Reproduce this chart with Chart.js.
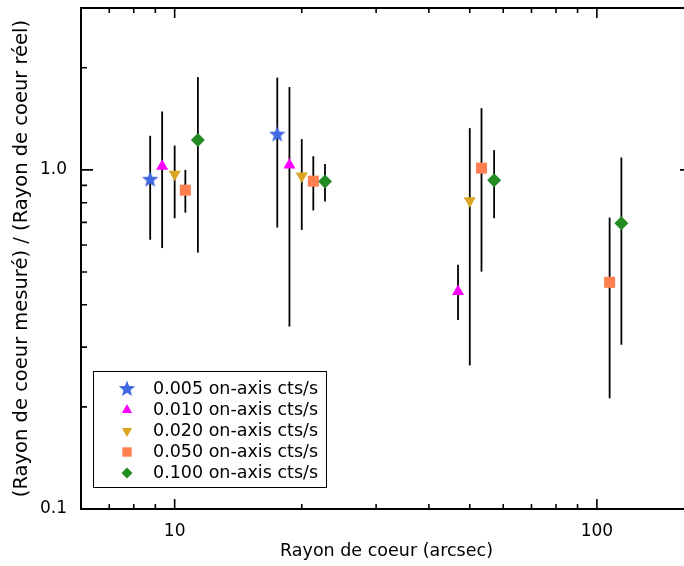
<!DOCTYPE html>
<html>
<head>
<meta charset="utf-8">
<script src="https://cdn.jsdelivr.net/npm/chart.js@4.4.1/dist/chart.umd.min.js"></script>
<style>
  html, body { margin: 0; padding: 0; background: #fff; overflow: hidden; }
  #wrap { width: 700px; height: 566px; }
</style>
</head>
<body>
<div id="wrap"><canvas id="chart" width="700" height="566"></canvas></div>
<script>
// legend labels and colours
const seriesNames = ["0.005 on-axis cts/s", "0.010 on-axis cts/s", "0.020 on-axis cts/s", "0.050 on-axis cts/s", "0.100 on-axis cts/s"];
const seriesColors = ["#4169E1", "#FF00FF", "#DAA520", "#FF7F50", "#228B22"];

// rayon de coeur (arcsec), ratio mesure/reel, bornes des barres d'erreur
const x005 = [8.75, 17.5];
const y005 = [0.935, 1.27];
const lo005 = [0.622, 0.676];
const hi005 = [1.26, 1.87];

const x010 = [9.34, 18.7, 46.9];
const y010 = [1.025, 1.034, 0.438];
const lo010 = [0.588, 0.345, 0.361];
const hi010 = [1.486, 1.754, 0.525];

const x020 = [10.0, 20.0, 50.0];
const y020 = [0.97, 0.959, 0.811];
const lo020 = [0.72, 0.665, 0.265];
const hi020 = [1.179, 1.232, 1.327];

const x050 = [10.6, 21.3, 53.3, 107.2];
const y050 = [0.871, 0.926, 1.012, 0.466];
const lo050 = [0.748, 0.759, 0.501, 0.212];
const hi050 = [1.0, 1.097, 1.52, 0.723];

const x100 = [11.35, 22.7, 57.1, 114.3];
const y100 = [1.224, 0.924, 0.932, 0.696];
const lo100 = [0.57, 0.806, 0.72, 0.305];
const hi100 = [1.877, 1.04, 1.143, 1.087];

// axis ticks
const xMajor = [10, 100];
const xMajorLabels = ["10", "100"];
const xMinor = [7, 8, 9, 20, 30, 40, 50, 60, 70, 80, 90];
const yMajor = [0.1, 1];
const yMajorLabels = ["0.1", "1.0"];
const yMinor = [0.2, 0.3, 0.4, 0.5, 0.6, 0.7, 0.8, 0.9, 2, 3];

const FONT = "'DejaVu Sans', sans-serif";

// filled 5 point star used as pointStyle
function makeStar(color, outer, inner) {
  const size = Math.ceil(outer * 2) + 2;
  const c = document.createElement("canvas");
  c.width = size; c.height = size;
  const g = c.getContext("2d");
  g.fillStyle = color;
  g.beginPath();
  for (let k = 0; k < 10; k++) {
    const r = k % 2 ? inner : outer;
    const a = -Math.PI / 2 + k * Math.PI / 5;
    g.lineTo(size / 2 + r * Math.cos(a), size / 2 + r * Math.sin(a));
  }
  g.closePath();
  g.fill();
  return c;
}

const star = makeStar(seriesColors[0], 8.6, 3.7);
const styles = [
  { pointStyle: star, radius: 8, rotation: 0 },
  { pointStyle: "triangle", radius: 7, rotation: 0 },
  { pointStyle: "triangle", radius: 7, rotation: 180 },
  { pointStyle: "rect", radius: 7.8, rotation: 0 },
  { pointStyle: "rectRot", radius: 7, rotation: 0 },
];

function makeSet(i, xs, ys, lo, hi) {
  return {
    label: seriesNames[i],
    data: xs.map((x, k) => ({ x: x, y: ys[k] })),
    errLo: lo,
    errHi: hi,
    backgroundColor: seriesColors[i],
    borderWidth: 0,
    pointStyle: styles[i].pointStyle,
    pointRadius: styles[i].radius,
    pointRotation: styles[i].rotation,
    showLine: false,
  };
}

const datasets = [
  makeSet(0, x005, y005, lo005, hi005),
  makeSet(1, x010, y010, lo010, hi010),
  makeSet(2, x020, y020, lo020, hi020),
  makeSet(3, x050, y050, lo050, hi050),
  makeSet(4, x100, y100, lo100, hi100),
];

// vertical error bars, drawn under the symbols
const errorBars = {
  id: "errorBars",
  beforeDatasetsDraw(chart) {
    const { ctx, scales: { x, y } } = chart;
    ctx.save();
    ctx.strokeStyle = "#000";
    ctx.lineWidth = 1.8;
    chart.data.datasets.forEach((ds) => {
      ds.data.forEach((p, k) => {
        const px = x.getPixelForValue(p.x);
        ctx.beginPath();
        ctx.moveTo(px, y.getPixelForValue(ds.errLo[k]));
        ctx.lineTo(px, y.getPixelForValue(ds.errHi[k]));
        ctx.stroke();
      });
    });
    ctx.restore();
  },
};

// box with inward ticks on all four sides
const frame = {
  id: "frame",
  afterDraw(chart) {
    const { ctx, chartArea: a, scales: { x, y } } = chart;
    ctx.save();
    ctx.strokeStyle = "#000";
    ctx.lineWidth = 2;
    ctx.strokeRect(a.left, a.top, a.right - a.left, a.bottom - a.top);
    ctx.lineWidth = 1.6;
    const xt = (v, len) => {
      const px = x.getPixelForValue(v);
      ctx.moveTo(px, a.bottom); ctx.lineTo(px, a.bottom - len);
      ctx.moveTo(px, a.top); ctx.lineTo(px, a.top + len);
    };
    const yt = (v, len) => {
      const py = y.getPixelForValue(v);
      ctx.moveTo(a.left, py); ctx.lineTo(a.left + len, py);
      ctx.moveTo(a.right, py); ctx.lineTo(a.right - len, py);
    };
    ctx.beginPath();
    xMajor.forEach((v) => xt(v, 10));
    xMinor.forEach((v) => xt(v, 5));
    yMajor.forEach((v) => yt(v, 12));
    yMinor.forEach((v) => yt(v, 6));
    ctx.stroke();
    ctx.restore();
  },
};

// legend box in the lower left corner
const legendBox = {
  id: "legendBox",
  afterDraw(chart) {
    const ctx = chart.ctx;
    ctx.save();
    ctx.strokeStyle = "#000";
    ctx.lineWidth = 1;
    ctx.strokeRect(93.5, 371.5, 233, 116);
    ctx.font = "17.5px " + FONT;
    ctx.textBaseline = "middle";
    seriesNames.forEach((name, i) => {
      const cy = 389 + i * 21;
      ctx.fillStyle = seriesColors[i];
      const r = i === 4 ? 5.5 : (i === 0 ? 8 : styles[i].radius * 0.85);
      Chart.helpers.drawPoint(ctx, {
        pointStyle: styles[i].pointStyle,
        radius: r,
        rotation: styles[i].rotation,
        borderWidth: 0,
      }, 127, cy);
      ctx.fillStyle = "#000";
      ctx.fillText(name, 153, cy);
    });
    ctx.restore();
  },
};

new Chart(document.getElementById("chart"), {
  type: "scatter",
  data: { datasets: datasets },
  plugins: [errorBars, frame, legendBox],
  options: {
    responsive: false,
    devicePixelRatio: 1,
    animation: false,
    layout: { padding: { top: 8, right: 7, left: 0, bottom: 0 } },
    plugins: { legend: { display: false }, tooltip: { enabled: false } },
    scales: {
      x: {
        type: "logarithmic",
        min: 6,
        max: 168,
        afterBuildTicks: (s) => { s.ticks = xMajor.concat(xMinor).sort((a, b) => a - b).map((v) => ({ value: v })); },
        afterFit: (s) => { s.height = 57; s.paddingLeft = 0; s.paddingRight = 0; },
        grid: { display: false, drawTicks: false },
        border: { display: false },
        ticks: {
          autoSkip: false,
          maxRotation: 0,
          padding: 12,
          color: "#000",
          font: { family: FONT, size: 17 },
          callback: (v) => { const k = xMajor.indexOf(v); return k < 0 ? "" : xMajorLabels[k]; },
        },
        title: {
          display: true,
          text: "Rayon de coeur (arcsec)",
          color: "#000",
          font: { family: FONT, size: 17.5 },
          padding: { top: 0, bottom: 4 },
        },
      },
      y: {
        type: "logarithmic",
        min: 0.1,
        max: 3.0,
        afterBuildTicks: (s) => { s.ticks = yMajor.concat(yMinor).sort((a, b) => a - b).map((v) => ({ value: v })); },
        afterFit: (s) => { s.width = 81; s.paddingTop = 0; s.paddingBottom = 0; },
        grid: { display: false, drawTicks: false },
        border: { display: false },
        ticks: {
          autoSkip: false,
          padding: 14,
          color: "#000",
          font: { family: FONT, size: 17 },
          callback: (v) => { const k = yMajor.indexOf(v); return k < 0 ? "" : yMajorLabels[k]; },
        },
        title: {
          display: true,
          text: "(Rayon de coeur mesuré) / (Rayon de coeur réel)",
          color: "#000",
          font: { family: FONT, size: 19.5 },
          padding: { top: 10, bottom: 0 },
        },
      },
    },
  },
});
</script>
</body>
</html>
